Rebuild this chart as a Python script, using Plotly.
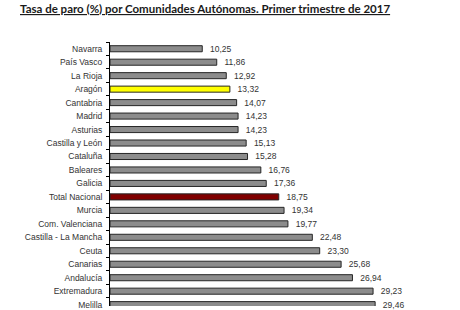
import plotly.graph_objects as go

regions = ["Navarra", "País Vasco", "La Rioja", "Aragón", "Cantabria", "Madrid",
           "Asturias", "Castilla y León", "Cataluña", "Baleares", "Galicia",
           "Total Nacional", "Murcia", "Com. Valenciana", "Castilla - La Mancha",
           "Ceuta", "Canarias", "Andalucía", "Extremadura", "Melilla"]
rates = [10.25, 11.86, 12.92, 13.32, 14.07, 14.23, 14.23, 15.13, 15.28, 16.76,
         17.36, 18.75, 19.34, 19.77, 22.48, 23.30, 25.68, 26.94, 29.23, 29.46]

colors = []
for r in regions:
    if r == "Aragón":
        colors.append("#FFFF00")
    elif r == "Total Nacional":
        colors.append("#800000")
    else:
        colors.append("#8C8C8C")

labels = ["  " + f"{v:.2f}".replace(".", ",") for v in rates]

fig = go.Figure(go.Bar(
    y=regions, x=rates, orientation="h",
    marker=dict(color=colors, line=dict(color="#262626", width=1)),
    text=labels, textposition="outside", cliponaxis=False,
    constraintext="none",
    textfont=dict(family="Liberation Sans, Arial", size=8.5, color="#333333"),
    width=0.45,
))

fig.update_layout(
    width=460, height=310,
    margin=dict(l=110, r=35, t=42, b=0),
    paper_bgcolor="white", plot_bgcolor="white",
    showlegend=False,
    title=dict(
        text="<b><u>Tasa de paro (%) por Comunidades Autónomas. Primer trimestre de 2017</u></b>",
        x=20 / 460, xanchor="left", y=1 - 9 / 310, yanchor="middle",
        font=dict(family="Lato, Open Sans, sans-serif", size=11.5, color="#1a1a1a"),
    ),
    xaxis=dict(range=[0, 35], visible=False),
    yaxis=dict(
        type="category", range=[19.1, -0.5],
        showline=True, linecolor="#000000", linewidth=1,
        ticks="outside", tickson="boundaries", ticklen=3, tickcolor="#000000",
        ticklabelstandoff=5,
        tickfont=dict(family="Liberation Sans, Arial", size=8.5, color="#333333"),
        showgrid=False, zeroline=False,
    ),
    font=dict(family="Liberation Sans, Arial"),
)

fig.write_html("out.html")
